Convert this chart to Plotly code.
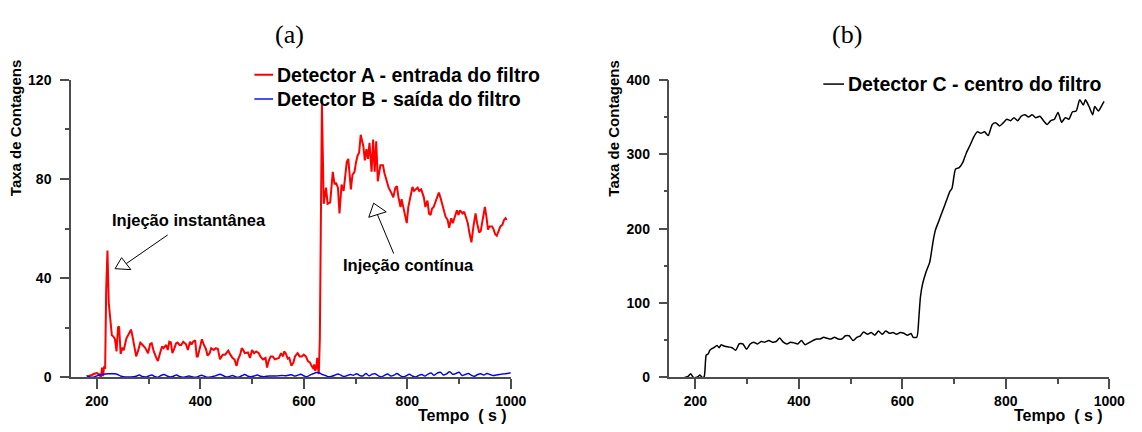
import plotly.graph_objects as go

W, H = 1142, 432

# ---------------- data ----------------
time_a = [181, 185, 190, 195, 200, 205, 208, 210, 212, 214, 216, 218, 220.5, 223, 226, 229, 232, 235, 238, 241,
          243, 246, 249, 252, 257, 262, 266, 268, 272, 276, 280, 284, 289, 294, 299, 303, 306, 310, 315, 318,
          323, 326, 329, 334, 337, 340, 343, 346, 350, 353, 356, 360, 363, 367, 372, 376, 380, 383, 386, 390,
          393, 395, 399, 403, 407, 411, 414, 418, 421, 426, 430, 434, 438, 443, 448, 451, 454, 458, 462, 466,
          470, 473, 477, 480, 483, 486, 489, 492, 496, 500, 504, 508, 513, 516, 521, 526, 529, 532, 536, 540,
          544, 548, 552, 556, 560, 562, 565, 569, 572, 576, 580, 583, 588, 592, 596, 600, 604, 608, 612, 615,
          619, 620, 622, 624, 626, 628, 629, 631, 633, 635,
          638.5, 643, 646, 651, 656, 659.5, 662, 666, 669, 673, 677, 680, 683, 686, 689, 691, 694, 698, 701, 704,
          707, 710, 715, 718, 721, 724, 727, 731, 734, 737, 740, 743, 748, 753, 756, 761, 764, 769, 773, 777,
          780, 783, 787, 789, 792, 796, 799, 802, 807, 810, 813, 816, 820, 823, 827, 832, 835, 839, 842, 845,
          848, 851, 856, 861, 864, 869, 874, 878, 881, 885, 888, 891, 896, 899, 902, 907, 910, 914, 917, 920,
          924, 928, 932, 935, 939, 942, 945, 950, 953, 956, 959, 964, 967, 970, 973, 977, 980, 984, 987, 990, 992]
det_a = [0.3, 0.5, 1.0, 1.5, 1.8, 1.2, 0.0, 4.0, 0.5, 4.5, 3.5, 35, 51.2, 30, 24.7, 17, 16.5, 15.5, 10.5, 20.2,
         20.5, 9.5, 12, 11, 15.7, 18, 19.3, 17.5, 13, 8.5, 11, 14, 13, 11.8, 9.8, 13.5, 13.8, 10.5, 7.9, 6.6,
         10.5, 12.5, 11.8, 13.1, 11.1, 14.4, 14.1, 9.8, 11.8, 13.7, 14.1, 13.1, 13.1, 14.4, 13.5, 11.1, 14.4, 13.3, 14.4, 15.0,
         8.5, 8.5, 11.8, 15.4, 13.1, 11.4, 8.8, 9.8, 11.8, 11.1, 11.8, 11.5, 7.3, 9.2, 9.2, 9.8, 10.8, 9.2, 7.9, 7.3,
         4.6, 7.3, 9.2, 11.8, 11.1, 9.8, 9.8, 10.1, 7.9, 11.1, 9.8, 10.5, 9.8, 8.5, 7.3, 7.9, 4.0, 6.6, 8.5, 8.5,
         7.3, 7.6, 7.9, 9.8, 8.5, 10.5, 9.8, 7.6, 7.9, 4.7, 6.0, 8.5, 9.8, 8.5, 8.5, 9.2, 8.5, 6.6, 6.0, 4.7,
         3.4, 5.3, 2.7, 4.0, 7.9, 2.7, 1.4, 15.7, 74, 110,
         70.0, 76.5, 70.0, 70.6, 82.9, 77.8, 78.5, 76.5, 66.1, 77.8, 75.2, 81.6, 86.8, 88.1, 81.6, 75.8, 81.6, 82.9, 86.8, 89.4,
         90.7, 97.8, 93.3, 87.5, 92.0, 88.1, 94.6, 82.9, 95.9, 82.9, 95.2, 79.1, 85.5, 85.5, 82.3, 79.1, 76.5, 74.5, 72.6, 76.5,
         77.1, 72.6, 68.7, 71.9, 68.7, 64.8, 62.2, 68.7, 74.5, 76.8, 75.2, 75.8, 76.5, 75.2, 75.8, 72.6, 68.7, 71.3, 66.1, 65.5,
         68.1, 68.7, 71.3, 74.5, 72.6, 68.7, 64.8, 63.5, 60.3, 64.2, 62.2, 64.2, 67.4, 65.5, 67.4, 66.1, 66.8, 64.2, 62.2, 58.4,
         54.5, 61.0, 66.1, 62.2, 58.4, 59.0, 62.2, 68.7, 64.8, 59.6, 60.9, 60.9, 59.6, 57.7, 57.1, 59.6, 60.9, 61.6, 63.5, 64.2, 63.5]

det_b = [0.8, 0.2, 0.1, 0.5, 0.9, 1.2, 1.4, 1.5, 1.5, 1.5, 1.2, 0.6, 0.3, 0.2, 0.2, 0.3, 0.5, 1.0, 0.4, 0.2,
         0.6, 1.0, 0.4, 0.1, 0.8, 1.2, 0.6, 0.2, 0.5, 1.0, 0.4, 0.1, 0.3, 0.6, 0.3, 0.1, 0.4, 0.9, 0.5, 0.1,
         0.2, 0.5, 0.9, 1.3, 0.8, 0.2, 0.4, 0.8, 0.3, 0.1, 0.7, 1.2, 0.5, 0.3, 0.6, 1.0, 0.5, 0.3, 0.5, 0.6,
         0.6, 0.6, 0.7, 0.8, 0.7, 0.9, 1.1, 0.6, 0.9, 1.3, 0.7, 0.3, 1.0, 1.5, 2.0, 1.8, 1.2, 0.8, 0.3, 0.5,
         0.9, 1.4, 0.9, 0.4, 0.8, 1.2, 0.9, 1.5, 0.8, 0.6, 1.6, 0.7, 1.3, 1.5, 0.7, 0.2, 0.9, 1.4, 0.6, 0.9,
         1.6, 0.8, 0.3, 0.7, 1.3, 0.6, 0.2, 0.8, 1.2, 0.6, 1.4, 1.8, 0.9, 1.8, 2.1, 1.0, 1.5, 2.3, 1.3, 1.6,
         2.1, 0.8, 1.2, 1.6, 0.9, 0.5, 1.2, 1.5, 1.0, 1.6, 1.2, 0.8, 1.0, 1.2, 1.4, 1.5, 1.7, 1.9]
time_b = [180 + 6 * i for i in range(len(det_b))]
time_b[-1] = 1000

time_c = [179, 185, 191, 196, 201, 205, 209, 213, 217, 221, 225, 228, 232, 235, 242, 246, 250, 253, 257, 264,
          271, 278, 285, 292, 299, 306, 313, 320, 327, 334, 342, 349, 356, 363, 370, 377, 384, 391, 398, 405,
          412, 419, 427, 434, 441, 448, 455, 462, 469, 476, 483, 490, 497, 505, 512, 519, 525, 533, 540, 547,
          554, 561, 568, 575, 582, 589, 596, 603, 610, 617, 621, 628, 632, 635, 639, 646, 653, 660, 664, 671,
          678, 685, 692, 696, 703, 710, 717, 724, 731, 738, 745, 752, 759, 766, 774, 781, 788, 795, 802, 809,
          816, 823, 830, 837, 844, 851, 858, 866, 873, 880, 887, 894, 901, 908, 915, 922, 929, 936, 943, 950,
          954, 961, 968, 972, 979, 986, 990]
det_c = [0, 1, 5, 0, 0, 1, 3.4, 0, 1, 30, 32, 36.6, 38.8, 39.7, 43, 40, 44, 43, 42, 41,
         40, 36.6, 45.3, 45, 38, 45, 47.4, 45, 48.3, 47.4, 49.6, 47.4, 48.3, 53, 47.4, 45, 47.4, 46.5, 45, 49.6,
         44, 46.5, 49.6, 51.7, 51.7, 53.9, 52.6, 51.7, 53.9, 51.7, 51.7, 56, 56, 49.6, 53.9, 56, 61, 58, 60.3, 56.9,
         62.5, 58, 62.5, 59.4, 60.3, 58.2, 60.3, 59.4, 56.9, 59, 54, 54, 80, 107.8, 125, 142, 155, 185, 198, 211,
         224, 237, 250, 254, 280, 282, 289, 302, 312, 323, 330, 328, 330, 325, 340, 342, 338, 342, 347, 345,
         349, 345, 351, 353, 350, 353, 349, 351, 345, 340, 345, 347, 356, 343, 349, 347, 357, 358, 373, 366,
         373, 364, 353, 364, 358, 366, 371]

xticks = [200, 400, 600, 800, 1000]
yticks_a = [0, 40, 80, 120]
yticks_c = [0, 100, 200, 300, 400]

# ---------------- layout helpers (page pixel -> paper fraction) ----------------
def fx(p):
    return p / W

def fy(p):
    return 1 - p / H

SANS = "Liberation Sans"
SERIF = "Liberation Serif"
AXC = "#4d4d4d"

def b(s):
    return "<b>" + str(s) + "</b>"

fig = go.Figure()
fig.add_trace(go.Scatter(x=time_a, y=det_a, mode="lines", line=dict(color="#ff0000", width=2),
                         name="Detector A - entrada do filtro", xaxis="x", yaxis="y"))
fig.add_trace(go.Scatter(x=time_b, y=det_b, mode="lines", line=dict(color="#0000ff", width=1.4, shape="spline"),
                         name="Detector B - saída do filtro", xaxis="x", yaxis="y"))
fig.add_trace(go.Scatter(x=time_c, y=det_c, mode="lines",
                         line=dict(color="#000000", width=1.5, shape="spline", smoothing=0.6),
                         name="Detector C - centro do filtro", xaxis="x2", yaxis="y2"))

tickfont = dict(family=SANS, size=14, color="black")
common_x = dict(range=[150, 1000], tickvals=xticks, ticktext=[b(v) for v in xticks],
                ticks="outside", ticklen=10, tickwidth=1.5,
                tickcolor=AXC, showline=True, linecolor=AXC, linewidth=1.5, showgrid=False,
                zeroline=False, tickfont=tickfont,
                minor=dict(tickvals=[300, 500, 700, 900], ticks="outside", ticklen=5, tickwidth=1.5, tickcolor=AXC))
common_y = dict(ticks="outside", ticklen=9, tickwidth=1.5, tickcolor=AXC, showline=True,
                linecolor=AXC, linewidth=1.5, showgrid=False, zeroline=False, tickfont=tickfont,
                ticklabelstandoff=6)

ydom = [fy(383.7), fy(74.5)]
fig.update_layout(
    width=W, height=H, margin=dict(l=0, r=0, t=0, b=0),
    paper_bgcolor="white", plot_bgcolor="white", showlegend=False,
    xaxis=dict(domain=[fx(72), fx(518)], anchor="y", **common_x),
    yaxis=dict(domain=ydom, anchor="x", range=[0, 120], tickvals=yticks_a, ticktext=[b(v) for v in yticks_a],
               minor=dict(tickvals=[20, 60, 100], ticks="outside", ticklen=4, tickwidth=1.5, tickcolor=AXC),
               **common_y),
    xaxis2=dict(domain=[fx(679), fx(1125)], anchor="y2", **common_x),
    yaxis2=dict(domain=ydom, anchor="x2", range=[0, 400], tickvals=yticks_c, ticktext=[b(v) for v in yticks_c],
                minor=dict(tickvals=[50, 150, 250, 350], ticks="outside", ticklen=4, tickwidth=1.5, tickcolor=AXC),
                **common_y),
)

ann = []
shapes = []

def sans(s):
    return dict(family=SANS, size=s, color="black")

# panel titles
for t, xc in (("(a)", 294), ("(b)", 859)):
    ann.append(dict(text=t, x=fx(xc), y=fy(28), xref="paper", yref="paper", showarrow=False,
                    font=dict(family=SERIF, size=26, color="black"), xanchor="center", yanchor="middle"))

# axis titles
for xc in (16, 622):
    ann.append(dict(text=b("Taxa de Contagens"), x=fx(xc), y=fy(125), xref="paper", yref="paper",
                    showarrow=False, textangle=-90, font=sans(15), xanchor="center", yanchor="middle"))
for xr in (516, 1121):
    ann.append(dict(text=b("Tempo&nbsp;&nbsp;( s )"), x=fx(xr), y=fy(423), xref="paper", yref="paper",
                    showarrow=False, font=sans(16), xanchor="right", yanchor="middle"))

# legends
legend_items = [(258, 277, 69.3, "#ff0000", 2, "Detector A - entrada do filtro"),
                (258, 277, 94.5, "#0000ff", 1.4, "Detector B - saída do filtro"),
                (835, 856, 79, "#000000", 1.5, "Detector C - centro do filtro")]
for x0, x1, yy, col, lw, txt in legend_items:
    shapes.append(dict(type="line", xref="paper", yref="paper", x0=fx(x0), x1=fx(x1), y0=fy(yy), y1=fy(yy),
                       line=dict(color=col, width=lw)))
    ann.append(dict(text=b(txt), x=fx(x1 + 2), y=fy(yy), xref="paper", yref="paper", showarrow=False,
                    font=sans(19.5), xanchor="left", yanchor="middle"))

# annotation labels
ann.append(dict(text=b("Injeção instantânea"), x=fx(112), y=fy(220), xref="paper", yref="paper",
                showarrow=False, font=sans(16.5), xanchor="left", yanchor="middle"))
ann.append(dict(text=b("Injeção contínua"), x=fx(346), y=fy(267), xref="paper", yref="paper",
                showarrow=False, font=sans(16.5), xanchor="left", yanchor="middle"))

# arrows with open heads
arrows = [((170, 235.7), (128, 265.5), [(116.7, 270.7), (123.3, 259.3), (132.7, 271.7)]),
          ((399.3, 255), (382.8, 214.5), [(379, 202.7), (391.7, 211.7), (374, 217.3)])]
for (sx, sy), (ex, ey), tri in arrows:
    shapes.append(dict(type="line", xref="paper", yref="paper", x0=fx(sx), y0=fy(sy), x1=fx(ex), y1=fy(ey),
                       line=dict(color="black", width=1)))
    path = "M {} {} L {} {} L {} {} Z".format(fx(tri[0][0]), fy(tri[0][1]), fx(tri[1][0]), fy(tri[1][1]),
                                               fx(tri[2][0]), fy(tri[2][1]))
    shapes.append(dict(type="path", xref="paper", yref="paper", path=path, fillcolor="white",
                       line=dict(color="black", width=1)))

fig.update_layout(annotations=ann, shapes=shapes)
fig.write_html(
    "out.html",
    config={"displayModeBar": False},
    post_script="document.body.style.margin='0';document.body.style.overflow='hidden';"
                "document.documentElement.style.overflow='hidden';",
)
